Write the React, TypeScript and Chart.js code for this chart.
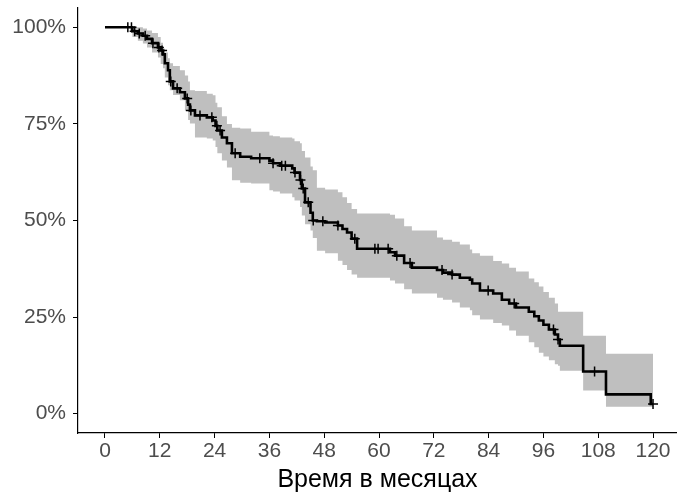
import React, { useEffect, useRef } from "react";
import { Chart, registerables } from "chart.js";

Chart.register(...registerables);

const stepTimes = [0, 6, 7.2, 8.3, 9.2, 10.3, 11.6, 12.2, 12.7, 13.1, 13.8, 14.2, 14.9, 16.4, 17.5, 18.2, 18.6, 19.7, 22.3, 23.6, 24.2, 24.6, 25.6, 26.7, 27.8, 29.6, 32, 36, 36.8, 38.3, 41, 41.5, 42.7, 43.1, 43.8, 45, 45.5, 46.4, 48.2, 51, 52, 53, 54, 55.2, 62.4, 63.5, 65.5, 67.2, 72.7, 74, 76, 77.7, 79.9, 80.4, 82.1, 85, 86.9, 88.5, 90, 92.8, 94, 95, 96, 97.2, 98.5, 99.2, 99.6, 104.7, 109.7, 119.5, 120];

const survival = [1, 0.99, 0.984, 0.978, 0.97, 0.959, 0.948, 0.94, 0.93, 0.907, 0.889, 0.86, 0.842, 0.832, 0.816, 0.8, 0.785, 0.772, 0.767, 0.759, 0.745, 0.733, 0.715, 0.7, 0.674, 0.665, 0.661, 0.655, 0.648, 0.642, 0.635, 0.624, 0.605, 0.583, 0.547, 0.52, 0.5, 0.498, 0.495, 0.487, 0.478, 0.469, 0.453, 0.427, 0.418, 0.409, 0.39, 0.378, 0.372, 0.365, 0.36, 0.352, 0.347, 0.337, 0.319, 0.311, 0.295, 0.285, 0.275, 0.264, 0.252, 0.241, 0.23, 0.218, 0.205, 0.192, 0.176, 0.109, 0.05, 0.025, 0.025];

const lowerCI = [1, 0.975, 0.965, 0.958, 0.948, 0.935, 0.922, 0.905, 0.894, 0.87, 0.85, 0.837, 0.825, 0.811, 0.785, 0.76, 0.751, 0.715, 0.712, 0.707, 0.69, 0.674, 0.655, 0.637, 0.604, 0.598, 0.596, 0.578, 0.575, 0.57, 0.56, 0.552, 0.535, 0.513, 0.49, 0.474, 0.455, 0.422, 0.415, 0.396, 0.385, 0.372, 0.36, 0.352, 0.345, 0.337, 0.322, 0.311, 0.3, 0.295, 0.288, 0.275, 0.268, 0.255, 0.244, 0.235, 0.228, 0.215, 0.202, 0.185, 0.172, 0.158, 0.148, 0.138, 0.128, 0.124, 0.111, 0.06, 0.018, 0.018, 0.018];

const upperCI = [1, 1, 1, 0.997, 0.992, 0.985, 0.975, 0.96, 0.945, 0.935, 0.92, 0.907, 0.9, 0.889, 0.875, 0.86, 0.837, 0.835, 0.828, 0.824, 0.805, 0.793, 0.77, 0.75, 0.74, 0.738, 0.73, 0.72, 0.718, 0.715, 0.712, 0.705, 0.7, 0.68, 0.663, 0.64, 0.63, 0.585, 0.58, 0.573, 0.56, 0.545, 0.53, 0.518, 0.515, 0.505, 0.485, 0.474, 0.456, 0.45, 0.445, 0.438, 0.425, 0.415, 0.409, 0.395, 0.389, 0.378, 0.368, 0.35, 0.34, 0.329, 0.315, 0.3, 0.285, 0.264, 0.264, 0.202, 0.155, 0.155, 0.155];

const censorTimes = [5, 5.8, 6.5, 7.5, 8.8, 10.5, 11.8, 12.5, 14.4, 15.8, 18, 18.8, 20.8, 23.4, 24.5, 25.2, 28.5, 33.9, 36.8, 38.7, 39.5, 41.6, 42.8, 43.4, 44.5, 45.6, 47.7, 51, 54.7, 59.1, 59.8, 62, 63.9, 66.8, 73.8, 76, 83.9, 89.6, 98.2, 99.2, 107.2, 120];

const xTicks = [0, 12, 24, 36, 48, 60, 72, 84, 96, 108, 120];
const yTicks = [0, 0.25, 0.5, 0.75, 1];
const yTickLabels = ["0%", "25%", "50%", "75%", "100%"];
const xTitle = "Время в месяцах";

function survivalAt(t: number): number {
  let v = survival[0];
  for (let i = 0; i < stepTimes.length; i++) {
    if (stepTimes[i] <= t) v = survival[i];
  }
  return v;
}

const FONT = "'Liberation Sans', Arial, sans-serif";

export default function App() {
  const ref = useRef<HTMLCanvasElement | null>(null);

  useEffect(() => {
    document.body.style.margin = "0";
    const canvas = ref.current;
    if (!canvas) return;
    const pts = (arr: number[]) => stepTimes.map((t, i) => ({ x: t, y: arr[i] }));
    const chart = new Chart(canvas, {
      type: "line",
      data: {
        datasets: [
          {
            label: "censor",
            data: censorTimes.map((t) => ({ x: t, y: survivalAt(t) })),
            showLine: false,
            pointStyle: "cross",
            pointRadius: 5,
            pointBorderWidth: 1.5,
            pointBorderColor: "#000",
            pointBackgroundColor: "#000",
            borderColor: "#000",
          },
          {
            label: "survival",
            data: pts(survival),
            stepped: true,
            borderColor: "#000",
            borderWidth: 2.6,
            pointRadius: 0,
            fill: false,
          },
          {
            label: "upper",
            data: pts(upperCI),
            stepped: true,
            borderWidth: 0,
            borderColor: "rgba(0,0,0,0)",
            pointRadius: 0,
            backgroundColor: "#BFBFBF",
            fill: "+1",
          },
          {
            label: "lower",
            data: pts(lowerCI),
            stepped: true,
            borderWidth: 0,
            borderColor: "rgba(0,0,0,0)",
            pointRadius: 0,
            fill: false,
          },
        ],
      },
      options: {
        animation: false,
        responsive: false,
        devicePixelRatio: 1,
        layout: { autoPadding: false, padding: { top: 8, right: 0, left: 0, bottom: 0 } },
        plugins: {
          legend: { display: false },
          tooltip: { enabled: false },
        },
        scales: {
          x: {
            type: "linear",
            min: -5.91,
            max: 125.25,
            afterBuildTicks: (s: any) => {
              s.ticks = xTicks.map((v) => ({ value: v }));
            },
            afterFit: (s: any) => {
              s.height = 62;
              s.paddingLeft = 0;
              s.paddingRight = 0;
            },
            grid: {
              drawOnChartArea: false,
              drawTicks: true,
              tickLength: 5,
              tickColor: "#000",
              tickWidth: 1,
            },
            border: { display: true, color: "#000", width: 1.2 },
            ticks: {
              color: "#4D4D4D",
              font: { family: FONT, size: 21 },
              padding: 1,
              maxRotation: 0,
              autoSkip: false,
              callback: (v: any) => String(v),
            },
            title: {
              display: true,
              text: xTitle,
              color: "#000",
              font: { family: FONT, size: 25 },
              padding: { top: 0, bottom: 0 },
            },
          },
          y: {
            type: "linear",
            min: -0.05,
            max: 1.05,
            afterBuildTicks: (s: any) => {
              s.ticks = yTicks.map((v) => ({ value: v }));
            },
            afterFit: (s: any) => {
              s.width = 78;
              s.paddingTop = 0;
              s.paddingBottom = 0;
            },
            grid: {
              drawOnChartArea: false,
              drawTicks: true,
              tickLength: 5,
              tickColor: "#000",
              tickWidth: 1,
            },
            border: { display: true, color: "#000", width: 1.2 },
            ticks: {
              color: "#4D4D4D",
              font: { family: FONT, size: 21 },
              padding: 7,
              autoSkip: false,
              callback: (v: any) => {
                const i = yTicks.indexOf(Number(v));
                return i >= 0 ? yTickLabels[i] : "";
              },
            },
          },
        },
      },
    });
    return () => chart.destroy();
  }, []);

  return (
    <div style={{ position: "fixed", left: 0, top: 0, width: 677, height: 495, background: "#fff" }}>
      <canvas ref={ref} width={677} height={495} style={{ width: 677, height: 495 }} />
    </div>
  );
}
